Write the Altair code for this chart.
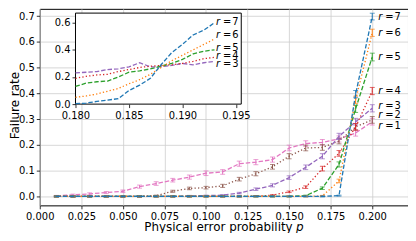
import altair as alt
import pandas as pd

# ---------------- data ----------------
p_main = [0.01, 0.02, 0.03, 0.04, 0.05, 0.06, 0.07, 0.08, 0.09, 0.10,
          0.11, 0.12, 0.13, 0.14, 0.15, 0.16, 0.17, 0.18, 0.19, 0.20]

rate_r1 = [0.002, 0.006, 0.010, 0.015, 0.020, 0.038, 0.050, 0.063, 0.075, 0.090,
           0.095, 0.127, 0.133, 0.143, 0.188, 0.205, 0.210, 0.223, 0.246, 0.290]
rate_r2 = [0.000, 0.000, 0.000, 0.000, 0.000, 0.000, 0.003, 0.020, 0.031, 0.034,
           0.041, 0.067, 0.088, 0.115, 0.156, 0.188, 0.190, 0.215, 0.270, 0.297]
rate_r3 = [0.000, 0.000, 0.000, 0.000, 0.000, 0.000, 0.000, 0.000, 0.002, 0.003,
           0.005, 0.013, 0.028, 0.043, 0.073, 0.113, 0.156, 0.233, 0.290, 0.342]
rate_r4 = [0.000, 0.000, 0.000, 0.000, 0.000, 0.000, 0.000, 0.000, 0.000, 0.000,
           0.000, 0.000, 0.001, 0.005, 0.018, 0.036, 0.108, 0.167, 0.270, 0.409]
rate_r5 = [0.000, 0.000, 0.000, 0.000, 0.000, 0.000, 0.000, 0.000, 0.000, 0.000,
           0.000, 0.000, 0.000, 0.000, 0.000, 0.003, 0.032, 0.124, 0.340, 0.541]
rate_r6 = [0.000, 0.000, 0.000, 0.000, 0.000, 0.000, 0.000, 0.000, 0.000, 0.000,
           0.000, 0.000, 0.000, 0.000, 0.000, 0.000, 0.002, 0.060, 0.375, 0.635]
rate_r7 = [0.000, 0.000, 0.000, 0.000, 0.000, 0.000, 0.000, 0.000, 0.000, 0.000,
           0.000, 0.000, 0.000, 0.000, 0.000, 0.000, 0.000, 0.003, 0.397, 0.698]

err_r1 = [0.002, 0.003, 0.004, 0.004, 0.005, 0.006, 0.007, 0.007, 0.008, 0.009,
          0.009, 0.010, 0.010, 0.010, 0.011, 0.011, 0.011, 0.012, 0.012, 0.013]
err_r2 = [0.002, 0.002, 0.002, 0.002, 0.002, 0.002, 0.002, 0.004, 0.005, 0.005,
          0.006, 0.007, 0.008, 0.009, 0.010, 0.011, 0.011, 0.011, 0.012, 0.013]
err_r3 = [0.002, 0.002, 0.002, 0.002, 0.002, 0.002, 0.002, 0.002, 0.002, 0.002,
          0.002, 0.003, 0.005, 0.006, 0.007, 0.009, 0.010, 0.012, 0.013, 0.014]
err_r4 = [0.002, 0.002, 0.002, 0.002, 0.002, 0.002, 0.002, 0.002, 0.002, 0.002,
          0.002, 0.002, 0.002, 0.002, 0.003, 0.005, 0.009, 0.011, 0.013, 0.014]
err_r5 = [0.002, 0.002, 0.002, 0.002, 0.002, 0.002, 0.002, 0.002, 0.002, 0.002,
          0.002, 0.002, 0.002, 0.002, 0.002, 0.002, 0.005, 0.010, 0.014, 0.015]
err_r6 = [0.002, 0.002, 0.002, 0.002, 0.002, 0.002, 0.002, 0.002, 0.002, 0.002,
          0.002, 0.002, 0.002, 0.002, 0.002, 0.002, 0.002, 0.007, 0.014, 0.014]
err_r7 = [0.002, 0.002, 0.002, 0.002, 0.002, 0.002, 0.002, 0.002, 0.002, 0.002,
          0.002, 0.002, 0.002, 0.002, 0.002, 0.002, 0.002, 0.002, 0.014, 0.013]

p_inset = [0.180, 0.181, 0.182, 0.183, 0.184, 0.185, 0.186,
           0.187, 0.188, 0.189, 0.190, 0.191, 0.192, 0.193]
inset_r3 = [0.230, 0.235, 0.240, 0.255, 0.260, 0.275, 0.305,
            0.275, 0.275, 0.285, 0.300, 0.290, 0.305, 0.315]
inset_r4 = [0.190, 0.205, 0.215, 0.220, 0.240, 0.255, 0.270,
            0.280, 0.285, 0.290, 0.300, 0.315, 0.335, 0.345]
inset_r5 = [0.130, 0.155, 0.165, 0.170, 0.200, 0.235, 0.245,
            0.260, 0.280, 0.300, 0.330, 0.370, 0.390, 0.400]
inset_r6 = [0.050, 0.060, 0.075, 0.095, 0.115, 0.150, 0.180,
            0.220, 0.270, 0.320, 0.360, 0.400, 0.440, 0.480]
inset_r7 = [0.003, 0.008, 0.020, 0.030, 0.040, 0.100, 0.140,
            0.190, 0.290, 0.380, 0.440, 0.510, 0.545, 0.600]

main_r = [1, 2, 3, 4, 5, 6, 7]
main_label_y = [0.274, 0.314, 0.351, 0.409, 0.541, 0.635, 0.698]
inset_r = [3, 4, 5, 6, 7]
inset_label_y = [0.293, 0.353, 0.415, 0.507, 0.605]

x_ticks = [0.0, 0.025, 0.05, 0.075, 0.1, 0.125, 0.15, 0.175, 0.2]
y_ticks = [0.0, 0.1, 0.2, 0.3, 0.4, 0.5, 0.6, 0.7]
inset_x_ticks = [0.18, 0.185, 0.19, 0.195]
inset_y_ticks = [0.0, 0.2, 0.4, 0.6]

rates = {1: rate_r1, 2: rate_r2, 3: rate_r3, 4: rate_r4, 5: rate_r5, 6: rate_r6, 7: rate_r7}
errs = {1: err_r1, 2: err_r2, 3: err_r3, 4: err_r4, 5: err_r5, 6: err_r6, 7: err_r7}
insets = {3: inset_r3, 4: inset_r4, 5: inset_r5, 6: inset_r6, 7: inset_r7}

# ---------------- styles ----------------
colors = {1: "#e377c2", 2: "#8c564b", 3: "#9467bd", 4: "#d62728",
          5: "#2ca02c", 6: "#ff7f0e", 7: "#1f77b4"}
DASHED = [4.5, 2]
DOTTED = [1.3, 2.2]
dashes = {1: DASHED, 2: DOTTED, 3: DASHED, 4: DOTTED, 5: DASHED, 6: DOTTED, 7: DASHED}
FONT = "DejaVu Sans"

xs = alt.Scale(domain=[0.0, 0.2215], nice=False, zero=False)
ys = alt.Scale(domain=[-0.0347, 0.728], nice=False, zero=False)
x_axis = alt.Axis(values=x_ticks, format=".3f", title="Physical error probability \U0001D631",
                  grid=True, domain=False, labelFlush=False, labelOverlap=False,
                  labelPadding=3, titleBaseline="alphabetic", titleY=25)
y_axis = alt.Axis(values=y_ticks, format=".1f", title="Failure rate",
                  grid=True, domain=False, labelOverlap=False, labelPadding=2,
                  titleBaseline="alphabetic", titleX=-21, titleY=97)

main_layers = []
for r in main_r:
    df = pd.DataFrame({"p": p_main, "v": rates[r], "e": errs[r]})
    df["lo"] = df["v"] - df["e"]
    df["hi"] = df["v"] + df["e"]
    base = alt.Chart(df)
    X = alt.X("p:Q", scale=xs, axis=x_axis)
    main_layers.append(base.mark_line(color=colors[r], strokeDash=dashes[r], strokeWidth=1.3)
                       .encode(x=X, y=alt.Y("v:Q", scale=ys, axis=y_axis)))
    main_layers.append(base.mark_rule(color=colors[r], strokeWidth=1)
                       .encode(x=X, y=alt.Y("lo:Q", scale=ys, axis=y_axis), y2="hi:Q"))
    for f in ["lo", "hi"]:
        main_layers.append(base.mark_tick(color=colors[r], orient="horizontal", size=5, thickness=1)
                           .encode(x=X, y=alt.Y(f + ":Q", scale=ys, axis=y_axis)))

lab = pd.DataFrame({"r": main_r, "y": main_label_y, "x": [0.2] * len(main_r)})
lab["eq"] = ["=\u200a" + str(r) for r in main_r]
lab_base = alt.Chart(lab)
main_layers.append(lab_base.mark_text(text="r", fontStyle="italic", font=FONT, fontSize=10,
                                      align="left", baseline="middle", dx=6, color="black")
                   .encode(x=alt.X("x:Q", scale=xs, axis=x_axis), y=alt.Y("y:Q", scale=ys, axis=y_axis)))
main_layers.append(lab_base.mark_text(font=FONT, fontSize=10, align="left", baseline="middle",
                                      dx=13, color="black")
                   .encode(x=alt.X("x:Q", scale=xs, axis=x_axis), y=alt.Y("y:Q", scale=ys, axis=y_axis),
                           text="eq:N"))
main = alt.layer(*main_layers)

# ---------------- inset ----------------
ixs = alt.Scale(domain=[0.18, 0.1955], range=[36, 203], nice=False, zero=False)
iys = alt.Scale(domain=[0.0, 0.671], range=[96, 4.3], nice=False, zero=False)
ix_axis = alt.Axis(values=inset_x_ticks, format=".3f", title=None, grid=False, domain=False,
                   orient="bottom", offset=-102, labelFlush=False, labelOverlap=False,
                   labelPadding=3)
iy_axis = alt.Axis(values=inset_y_ticks, format=".1f", title=None, grid=False, domain=False,
                   orient="left", offset=-36, labelOverlap=False, labelPadding=2)

frame = pd.DataFrame({"x": [0.18], "x2": [0.1955], "y": [0.0], "y2": [0.671]})
inset_layers = [alt.Chart(frame).mark_rect(fill="white", stroke="black", strokeWidth=1)
                .encode(x=alt.X("x:Q", scale=ixs, axis=ix_axis), x2="x2:Q",
                        y=alt.Y("y:Q", scale=iys, axis=iy_axis), y2="y2:Q")]
for r in inset_r:
    df = pd.DataFrame({"p": p_inset, "v": insets[r]})
    inset_layers.append(alt.Chart(df).mark_line(color=colors[r], strokeDash=dashes[r], strokeWidth=1.3)
                        .encode(x=alt.X("p:Q", scale=ixs, axis=ix_axis),
                                y=alt.Y("v:Q", scale=iys, axis=iy_axis)))
ilab = pd.DataFrame({"r": inset_r, "y": inset_label_y, "x": [0.193] * len(inset_r)})
ilab["eq"] = ["=\u200a" + str(r) for r in inset_r]
ilab_base = alt.Chart(ilab)
inset_layers.append(ilab_base.mark_text(text="r", fontStyle="italic", font=FONT, fontSize=10,
                                        align="left", baseline="middle", dx=1.5, color="black")
                    .encode(x=alt.X("x:Q", scale=ixs, axis=ix_axis), y=alt.Y("y:Q", scale=iys, axis=iy_axis)))
inset_layers.append(ilab_base.mark_text(font=FONT, fontSize=10, align="left", baseline="middle",
                                        dx=8.5, color="black")
                    .encode(x=alt.X("x:Q", scale=ixs, axis=ix_axis), y=alt.Y("y:Q", scale=iys, axis=iy_axis),
                            text="eq:N"))
inset = alt.layer(*inset_layers)

chart = (alt.layer(main, inset)
         .resolve_scale(x="independent", y="independent")
         .properties(width=371, height=198,
                     padding={"left": 32, "top": 0, "right": 0, "bottom": 27},
                     autosize=alt.AutoSizeParams(type="none"))
         .configure_view(stroke="black", strokeWidth=1)
         .configure_axis(labelFont=FONT, labelFontSize=10, labelColor="black",
                         tickColor="black", tickSize=3.5, tickWidth=0.8,
                         titleFont=FONT, titleFontSize=12, titleFontWeight="normal",
                         titleColor="black", gridColor="#cccccc", gridWidth=0.8))

chart.save("out.html", embed_options={"renderer": "svg", "actions": False})
